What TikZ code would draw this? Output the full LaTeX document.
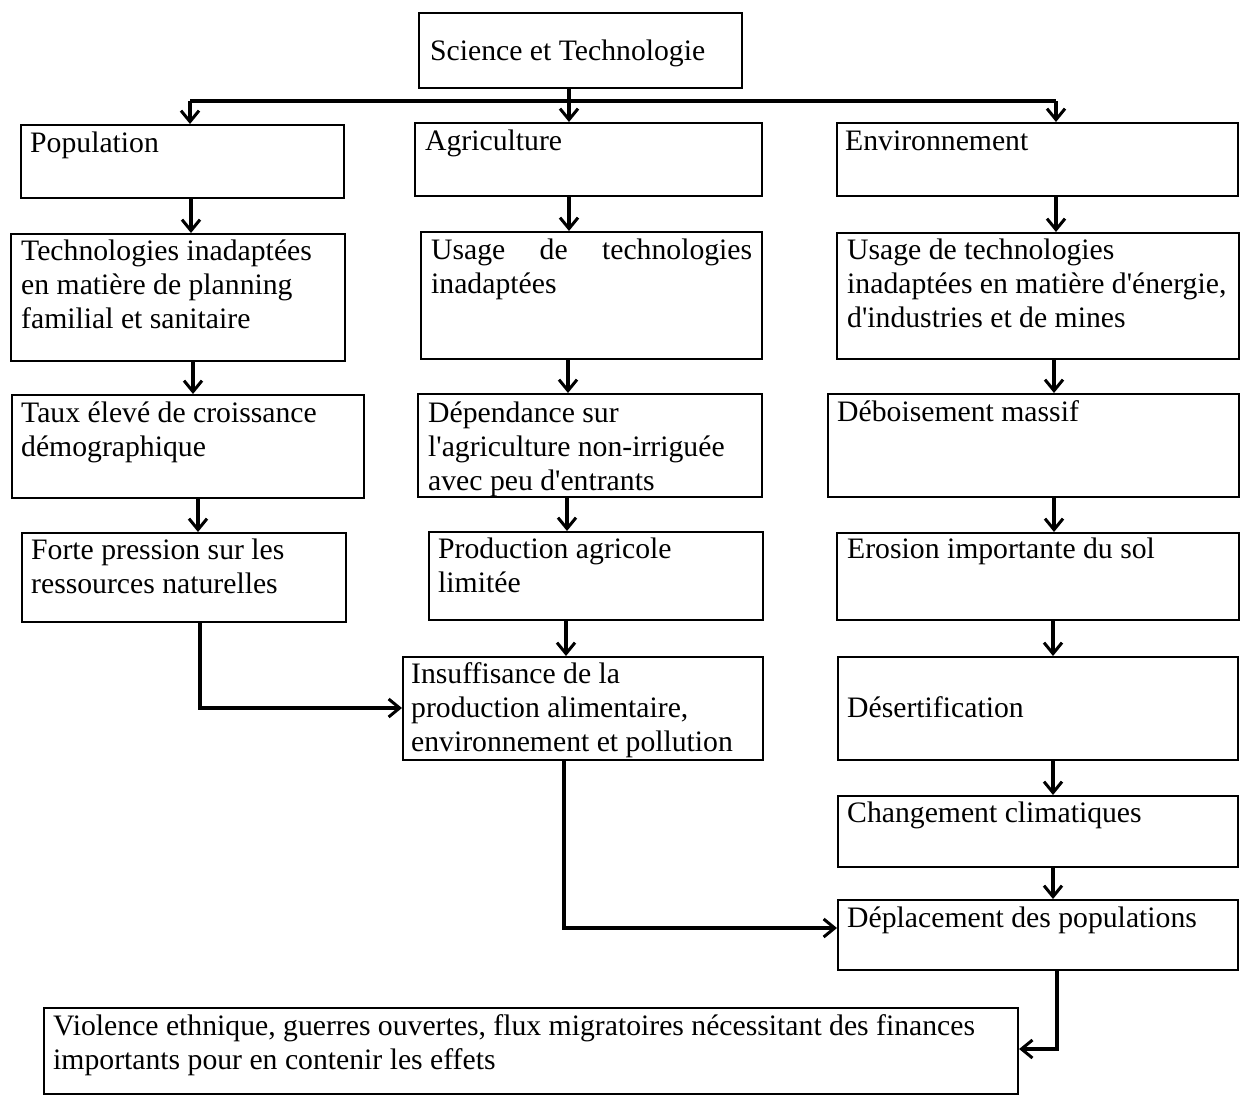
\documentclass[tikz,border=0pt]{standalone}
\usepackage{fontspec}
\setmainfont{Liberation Serif}
\usetikzlibrary{arrows.meta}
\newcommand{\fs}{\fontsize{29.7}{34}\selectfont}
\newcommand{\q}{\textquotesingle}
\begin{document}
\begin{tikzpicture}[x=1pt,y=-1pt,
  box/.style={draw, line width=2.1pt, inner sep=0pt, anchor=north west},
  txt/.style={inner sep=0pt, anchor=north west, align=left, font=\fs},
  link/.style={line width=3.4pt},
  arr/.style={line width=3.4pt, -{Straight Barb[length=11pt,width=18pt,line width=3pt]}}]
\useasboundingbox (0,0) rectangle (1242,1096);
% boxes
\node[box, minimum width=323pt, minimum height=75pt] (sci) at (418,12) {};
\node[box, minimum width=323pt, minimum height=73pt] (pop) at (20,124) {};
\node[box, minimum width=347pt, minimum height=73pt] (agr) at (414,122) {};
\node[box, minimum width=401pt, minimum height=73pt] (env) at (836,122) {};
\node[box, minimum width=334pt, minimum height=127pt] (tech) at (10,233) {};
\node[box, minimum width=341pt, minimum height=127pt] (usa) at (420,231) {};
\node[box, minimum width=402pt, minimum height=126pt] (usb) at (836,232) {};
\node[box, minimum width=352pt, minimum height=103pt] (taux) at (11,394) {};
\node[box, minimum width=344pt, minimum height=103pt] (dep) at (417,393) {};
\node[box, minimum width=411pt, minimum height=103pt] (deb) at (827,393) {};
\node[box, minimum width=324pt, minimum height=89pt] (forte) at (21,532) {};
\node[box, minimum width=334pt, minimum height=88pt] (prod) at (428,531) {};
\node[box, minimum width=402pt, minimum height=87pt] (ero) at (836,532) {};
\node[box, minimum width=360pt, minimum height=103pt] (ins) at (402,656) {};
\node[box, minimum width=400pt, minimum height=103pt] (des) at (837,656) {};
\node[box, minimum width=400pt, minimum height=71pt] (chg) at (837,795) {};
\node[box, minimum width=400pt, minimum height=70pt] (dpl) at (837,899) {};
\node[box, minimum width=974pt, minimum height=86pt] (vio) at (43,1007) {};
% texts (top = baseline - 23.8)
\node[txt] (sci-t) at (430,36.2) {\strut Science et Technologie};
\node[txt] (pop-t) at (30,128.2) {\strut Population};
\node[txt] (agr-t) at (425,126.2) {\strut Agriculture};
\node[txt] (env-t) at (845,126.2) {\strut Environnement};
\node[txt] (tech-t) at (21,236.2) {\strut Technologies inadaptées\\\strut en matière de planning\\\strut familial et sanitaire};
\node[txt] (usa-t) at (431,235.2) {\strut\makebox[321pt][s]{Usage de technologies}\\\strut inadaptées};
\node[txt] (usb-t) at (847,235.2) {\strut Usage de technologies\\\strut inadaptées en matière d\q énergie,\\\strut d\q industries et de mines};
\node[txt] (taux-t) at (21,398.2) {\strut Taux élevé de croissance\\\strut démographique};
\node[txt] (dep-t) at (428,398.2) {\strut Dépendance sur\\\strut l\q agriculture non-irriguée\\\strut avec peu d\q entrants};
\node[txt] (deb-t) at (837,397.2) {\strut Déboisement massif};
\node[txt] (forte-t) at (31,535.2) {\strut Forte pression sur les\\\strut ressources naturelles};
\node[txt] (prod-t) at (438,534.2) {\strut Production agricole\\\strut limitée};
\node[txt] (ero-t) at (847,534.2) {\strut Erosion importante du sol};
\node[txt] (ins-t) at (411,659.2) {\strut Insuffisance de la\\\strut production alimentaire,\\\strut environnement et pollution};
\node[txt] (des-t) at (847,693.2) {\strut Désertification};
\node[txt] (chg-t) at (847,798.2) {\strut Changement climatiques};
\node[txt] (dpl-t) at (847,903.2) {\strut Déplacement des populations};
\node[txt] (vio-t) at (53,1011.2) {\strut Violence ethnique, guerres ouvertes, flux migratoires nécessitant des finances\\\strut importants pour en contenir les effets};
% connectors
\coordinate (bl) at (190,101);
\coordinate (bm) at (569,101);
\coordinate (br) at (1056,101);
\draw[link] (sci.south -| bm) -- (bm);
\draw[link] (bl) -- (br);
\draw[arr] (bl) -- (pop.north -| bl);
\draw[arr] (bm) -- (agr.north -| bm);
\draw[arr] (br) -- (env.north -| br);
\draw[arr] (pop.south -| 191,0) -- (tech.north -| 191,0);
\draw[arr] (agr.south -| 569,0) -- (usa.north -| 569,0);
\draw[arr] (env.south -| 1056,0) -- (usb.north -| 1056,0);
\draw[arr] (tech.south -| 193,0) -- (taux.north -| 193,0);
\draw[arr] (usa.south -| 568,0) -- (dep.north -| 568,0);
\draw[arr] (usb.south -| 1054,0) -- (deb.north -| 1054,0);
\draw[arr] (taux.south -| 198,0) -- (forte.north -| 198,0);
\draw[arr] (dep.south -| 567,0) -- (prod.north -| 567,0);
\draw[arr] (deb.south -| 1054,0) -- (ero.north -| 1054,0);
\draw[arr] (forte.south -| 200,0) |- (ins.west |- 0,708);
\draw[arr] (prod.south -| 566,0) -- (ins.north -| 566,0);
\draw[arr] (ero.south -| 1053,0) -- (des.north -| 1053,0);
\draw[arr] (des.south -| 1053,0) -- (chg.north -| 1053,0);
\draw[arr] (chg.south -| 1053,0) -- (dpl.north -| 1053,0);
\draw[arr] (ins.south -| 564,0) |- (dpl.west |- 0,928);
\draw[arr] (dpl.south -| 1057,0) |- (vio.east |- 0,1049);
\end{tikzpicture}
\end{document}
